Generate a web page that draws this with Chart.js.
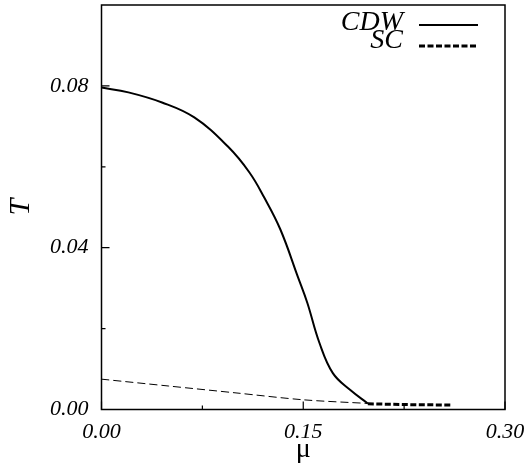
<!DOCTYPE html>
<html>
<head>
<meta charset="utf-8">
<script src="https://cdn.jsdelivr.net/npm/chart.js@4/dist/chart.umd.min.js"></script>
<style>
  html, body { margin: 0; padding: 0; background: #ffffff; }
  #wrap { width: 529px; height: 466px; position: relative; }
</style>
</head>
<body>
<div id="wrap"><canvas id="c"></canvas></div>
<script>
// ---- data ----
const cdwMu = [0.000, 0.020, 0.045, 0.069, 0.094, 0.110, 0.121, 0.133, 0.146, 0.153, 0.162, 0.172, 0.185, 0.198];
const cdwT  = [0.0796, 0.0784, 0.0759, 0.0722, 0.0650, 0.0586, 0.0524, 0.0445, 0.0328, 0.0264, 0.0165, 0.0090, 0.0048, 0.0015];

const scMu = [0.198, 0.230, 0.260];
const scT  = [0.0014, 0.0012, 0.0011];

const scSubMu = [0.000, 0.050, 0.100, 0.150, 0.198];
const scSubT  = [0.0075, 0.0058, 0.0041, 0.0024, 0.0015];

const xTicks = [0.00, 0.15, 0.30];
const yTicks = [0.00, 0.04, 0.08];
const xMinor = [0.075, 0.225];
const yMinor = [0.02, 0.06];

const labels = { x: 'μ', y: 'T', cdw: 'CDW', sc: 'SC' };

const pts = (xs, ys) => xs.map((v, i) => ({ x: v, y: ys[i] }));

const serif = '"Liberation Serif", "DejaVu Serif", serif';

const framePlugin = {
  id: 'frame',
  afterDatasetsDraw(chart) {
    const ctx = chart.ctx;
    const a = chart.chartArea;
    const xs = chart.scales.x, ys = chart.scales.y;
    ctx.save();
    ctx.strokeStyle = '#000';
    ctx.lineWidth = 1.5;
    ctx.strokeRect(a.left, a.top, a.right - a.left, a.bottom - a.top);
    ctx.lineWidth = 1.2;
    ctx.beginPath();
    xTicks.forEach(v => { const p = xs.getPixelForValue(v); ctx.moveTo(p, a.bottom); ctx.lineTo(p, a.bottom - 8); });
    xMinor.forEach(v => { const p = xs.getPixelForValue(v); ctx.moveTo(p, a.bottom); ctx.lineTo(p, a.bottom - 4); });
    yTicks.forEach(v => { const p = ys.getPixelForValue(v); ctx.moveTo(a.left, p); ctx.lineTo(a.left + 8, p); });
    yMinor.forEach(v => { const p = ys.getPixelForValue(v); ctx.moveTo(a.left, p); ctx.lineTo(a.left + 4, p); });
    ctx.stroke();

    // legend (text left of line sample)
    const entries = chart.data.datasets.filter(d => d.inLegend);
    const baselines = [30, 48];
    const lineYs = [25, 46];
    ctx.font = 'italic 28px ' + serif;
    ctx.fillStyle = '#000';
    ctx.textAlign = 'right';
    ctx.textBaseline = 'alphabetic';
    entries.forEach((d, i) => {
      ctx.fillText(d.label, 403, baselines[i]);
      ctx.beginPath();
      ctx.setLineDash(d.borderDash || []);
      ctx.lineWidth = d.borderWidth;
      ctx.strokeStyle = d.borderColor;
      ctx.moveTo(419, lineYs[i]);
      ctx.lineTo(478, lineYs[i]);
      ctx.stroke();
    });
    ctx.setLineDash([]);
    ctx.restore();
  }
};

new Chart(document.getElementById('c'), {
  type: 'line',
  data: {
    datasets: [
      {
        label: labels.cdw, inLegend: true,
        data: pts(cdwMu, cdwT),
        borderColor: '#000', borderWidth: 2,
        pointRadius: 0, tension: 0.4, fill: false
      },
      {
        label: labels.sc, inLegend: true,
        data: pts(scMu, scT),
        borderColor: '#000', borderWidth: 3, borderDash: [6, 2.5],
        pointRadius: 0, tension: 0, fill: false
      },
      {
        label: 'SC (CDW region)', inLegend: false,
        data: pts(scSubMu, scSubT),
        borderColor: '#000', borderWidth: 1, borderDash: [8, 4],
        pointRadius: 0, tension: 0.3, fill: false
      }
    ]
  },
  options: {
    responsive: true,
    maintainAspectRatio: false,
    animation: false,
    layout: { padding: { left: 0, right: 24, top: 5, bottom: 0 } },
    plugins: { legend: { display: false }, tooltip: { enabled: false } },
    scales: {
      x: {
        type: 'linear', min: 0, max: 0.3,
        grid: { display: false, drawTicks: false },
        border: { display: false },
        afterBuildTicks: s => { s.ticks = xTicks.map(v => ({ value: v })); },
        afterFit: s => { s.height = 56.5; s.paddingLeft = 0; s.paddingRight = 0; },
        ticks: {
          color: '#000', padding: 10, maxRotation: 0, autoSkip: false,
          font: { family: serif, size: 22, style: 'italic' },
          callback: v => Number(v).toFixed(2)
        },
        title: {
          display: true, text: labels.x, color: '#000',
          font: { family: serif, size: 28, lineHeight: 1 },
          padding: { top: 0, bottom: 2 }
        }
      },
      y: {
        type: 'linear', min: 0, max: 0.1,
        grid: { display: false, drawTicks: false },
        border: { display: false },
        afterBuildTicks: s => { s.ticks = yTicks.map(v => ({ value: v })); },
        afterFit: s => { s.width = 101.5; s.paddingTop = 0; s.paddingBottom = 0; },
        ticks: {
          color: '#000', padding: 13, autoSkip: false,
          font: { family: serif, size: 22, style: 'italic' },
          callback: v => Number(v).toFixed(2)
        },
        title: {
          display: true, text: labels.y, color: '#000',
          font: { family: serif, size: 30, style: 'italic', lineHeight: 1 },
          padding: { top: 6, bottom: 0 }
        }
      }
    }
  },
  plugins: [framePlugin]
});
</script>
</body>
</html>
